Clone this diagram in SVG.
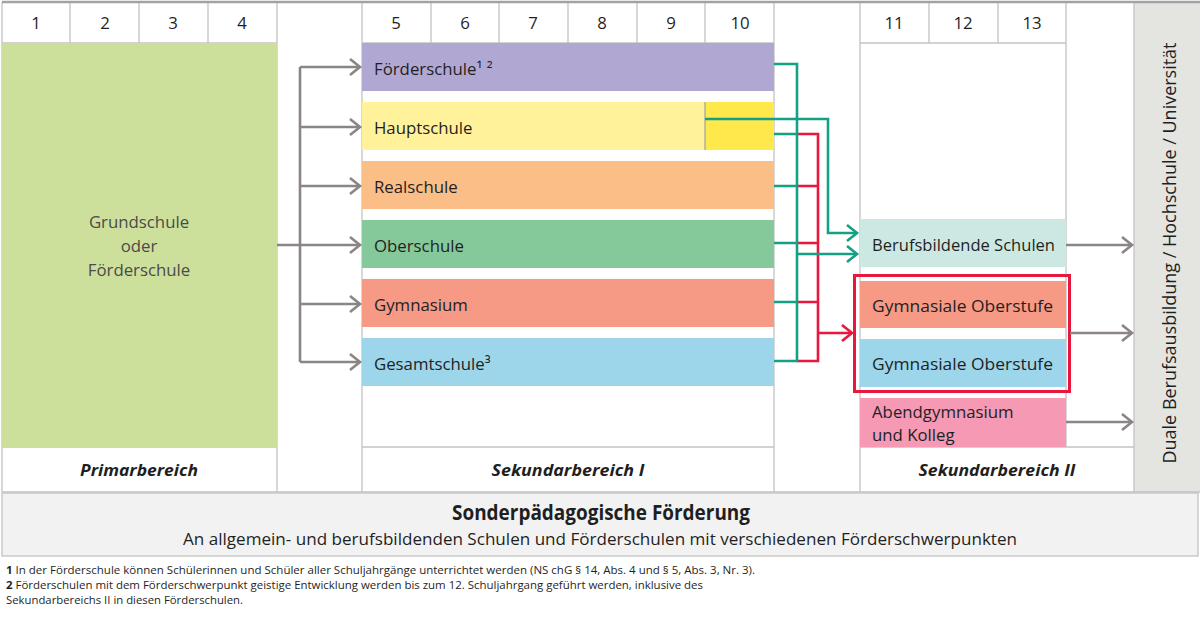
<svg xmlns="http://www.w3.org/2000/svg" width="1200" height="618" viewBox="0 0 1200 618">
<defs>
<style>
.grid{stroke:#c3c3c3;stroke-width:1.3;fill:none}
.t{font-family:'Open Sans','Liberation Sans',sans-serif;font-size:16.8px;fill:#1f1f1f}
.tc{text-anchor:middle}
.pt{fill:#4a4a4a}
.bi{font-weight:bold;font-style:italic}
.gr{stroke:#8b8585;stroke-width:2.6;fill:none}
.gn{stroke:#14a085;stroke-width:2.6;fill:none}
.rd{stroke:#e8173d;stroke-width:2.6;fill:none}
.fn{font-family:'Open Sans','Liberation Sans',sans-serif;font-size:11px;fill:#1f1f1f}
</style>
<marker id="ag" markerUnits="userSpaceOnUse" markerWidth="14" markerHeight="20" refX="11" refY="9" orient="auto" viewBox="0 0 14 20"><path d="M1,1 L11,9 L1,17" fill="none" stroke="#8b8585" stroke-width="2.6"/></marker>
<marker id="an" markerUnits="userSpaceOnUse" markerWidth="14" markerHeight="20" refX="11" refY="9" orient="auto" viewBox="0 0 14 20"><path d="M1,1 L11,9 L1,17" fill="none" stroke="#14a085" stroke-width="2.6"/></marker>
<marker id="ar" markerUnits="userSpaceOnUse" markerWidth="14" markerHeight="20" refX="11" refY="9" orient="auto" viewBox="0 0 14 20"><path d="M1,1 L11,9 L1,17" fill="none" stroke="#e8173d" stroke-width="2.6"/></marker>
</defs>
<rect width="1200" height="618" fill="#ffffff"/>

<g id="grid">
<rect x="1134" y="2" width="66" height="490" fill="#e4e4e0"/>
<path class="grid" d="M2,2 V492 M277,2 V492 M362,2 V492 M774,2 V492 M860,2 V492 M1066,2 V447 M1134,2 V492
M70,2 V43 M139,2 V43 M208,2 V43 M431,2 V43 M499,2 V43 M568,2 V43 M637,2 V43 M705,2 V43 M929,2 V43 M998,2 V43
M2,43 H277 M362,43 H774 M860,43 H1066
M2,447 H277 M362,447 H774 M860,447 H1134 M2,492 H1200"/>
<line x1="2" y1="2" x2="1200" y2="2" stroke="#a3a3a3" stroke-width="2.4"/>
<g class="t tc">
<text x="36" y="29">1</text><text x="105" y="29">2</text><text x="173" y="29">3</text><text x="242" y="29">4</text>
<text x="396" y="29">5</text><text x="465" y="29">6</text><text x="533" y="29">7</text><text x="602" y="29">8</text><text x="671" y="29">9</text><text x="740" y="29">10</text>
<text x="894" y="29">11</text><text x="963" y="29">12</text><text x="1032" y="29">13</text>
</g>
<g class="t tc bi">
<text x="139" y="476" textLength="118" lengthAdjust="spacingAndGlyphs">Primarbereich</text>
<text x="568" y="476" textLength="153" lengthAdjust="spacingAndGlyphs">Sekundarbereich I</text>
<text x="997" y="476" textLength="157" lengthAdjust="spacingAndGlyphs">Sekundarbereich II</text>
</g>
<text class="t tc" style="font-size:17.5px" transform="translate(1176,253) rotate(-90)" textLength="421" lengthAdjust="spacingAndGlyphs">Duale Berufsausbildung / Hochschule / Universität</text>
</g>

<g id="primar">
<rect x="2" y="43" width="275" height="404" fill="#cde09b"/>
<text class="t tc pt" x="139" y="228">Grundschule</text>
<text class="t tc pt" x="139" y="252">oder</text>
<text class="t tc pt" x="139" y="276">Förderschule</text>
</g>

<g id="foerderschule">
<rect x="362" y="43" width="412" height="48" fill="#b1a7d3"/>
<text class="t" x="374" y="75">Förderschule¹ ²</text>
</g>
<g id="hauptschule">
<rect x="362" y="102" width="343" height="48" fill="#fff29a"/>
<rect x="705" y="102" width="69" height="48" fill="#ffe84b"/>
<line x1="705" y1="102" x2="705" y2="150" stroke="#a8a8a0" stroke-width="1.3"/>
<text class="t" x="374" y="134">Hauptschule</text>
</g>
<g id="realschule">
<rect x="362" y="161" width="412" height="48" fill="#fbbe87"/>
<text class="t" x="374" y="193">Realschule</text>
</g>
<g id="oberschule">
<rect x="362" y="220" width="412" height="48" fill="#85c99a"/>
<text class="t" x="374" y="252">Oberschule</text>
</g>
<g id="gymnasium">
<rect x="362" y="279" width="412" height="48" fill="#f69985"/>
<text class="t" x="374" y="311">Gymnasium</text>
</g>
<g id="gesamtschule">
<rect x="362" y="338" width="412" height="48" fill="#9dd5ea"/>
<text class="t" x="374" y="370">Gesamtschule³</text>
</g>

<g id="berufsbildende">
<rect x="860" y="219" width="206" height="48" fill="#cbe9e2"/>
<text class="t" x="872" y="251" textLength="183" lengthAdjust="spacingAndGlyphs">Berufsbildende Schulen</text>
</g>
<g id="gymnasiale-oberstufe">
<rect x="854.5" y="275.5" width="215" height="116" fill="none" stroke="#e8173d" stroke-width="3"/>
<rect x="860" y="281" width="206" height="47" fill="#f69985"/>
<text class="t" x="872" y="312" textLength="181" lengthAdjust="spacingAndGlyphs">Gymnasiale Oberstufe</text>
<rect x="860" y="339" width="206" height="48" fill="#9dd5ea"/>
<text class="t" x="872" y="370" textLength="181" lengthAdjust="spacingAndGlyphs">Gymnasiale Oberstufe</text>
</g>
<g id="abendgymnasium">
<rect x="860" y="398" width="206" height="49" fill="#f599b5"/>
<text class="t" x="872" y="418">Abendgymnasium</text>
<text class="t" x="872" y="441">und Kolleg</text>
</g>

<g id="connectors">
<path class="gr" d="M277,245 H300 M300,67 V362"/>
<path class="gr" d="M300,67 H360" marker-end="url(#ag)"/>
<path class="gr" d="M300,127 H360" marker-end="url(#ag)"/>
<path class="gr" d="M300,186 H360" marker-end="url(#ag)"/>
<path class="gr" d="M300,245 H360" marker-end="url(#ag)"/>
<path class="gr" d="M300,304 H360" marker-end="url(#ag)"/>
<path class="gr" d="M300,362 H360" marker-end="url(#ag)"/>

<path class="rd" d="M797,134 H818 V361 H797 M797,186 H818 M797,243 H818 M797,302 H818"/>
<path class="rd" d="M818,333 H852" marker-end="url(#ar)"/>

<path class="gn" d="M774,64 H797 V361 H774 M774,134 H797 M774,186 H797 M774,243 H797 M774,302 H797"/>
<path class="gn" d="M705,119 H828 V233 H857" marker-end="url(#an)"/>
<path class="gn" d="M797,254 H857" marker-end="url(#an)"/>

<path class="gr" d="M1066,245 H1132" marker-end="url(#ag)"/>
<path class="gr" d="M1070,333 H1132" marker-end="url(#ag)"/>
<path class="gr" d="M1066,422 H1132" marker-end="url(#ag)"/>
</g>

<g id="sonderpaedagogik">
<rect x="2" y="493" width="1196" height="63" fill="#f2f2f2" stroke="#c3c3c3" stroke-width="1.3"/>
<text class="t tc" x="601" y="520" style="font-size:20.5px;font-weight:bold" textLength="298" lengthAdjust="spacingAndGlyphs">Sonderpädagogische Förderung</text>
<text class="t tc" x="600" y="545" style="font-size:16.5px" textLength="834" lengthAdjust="spacingAndGlyphs">An allgemein- und berufsbildenden Schulen und Förderschulen mit verschiedenen Förderschwerpunkten</text>
</g>

<g id="footnotes">
<text class="fn" x="6" y="574" textLength="749" lengthAdjust="spacingAndGlyphs"><tspan font-weight="bold">1</tspan> In der Förderschule können Schülerinnen und Schüler aller Schuljahrgänge unterrichtet werden (NS chG § 14, Abs. 4 und § 5, Abs. 3, Nr. 3).</text>
<text class="fn" x="6" y="589" textLength="697" lengthAdjust="spacingAndGlyphs"><tspan font-weight="bold">2</tspan> Förderschulen mit dem Förderschwerpunkt geistige Entwicklung werden bis zum 12. Schuljahrgang geführt werden, inklusive des</text>
<text class="fn" x="6" y="604" textLength="237" lengthAdjust="spacingAndGlyphs">Sekundarbereichs II in diesen Förderschulen.</text>
</g>
</svg>
